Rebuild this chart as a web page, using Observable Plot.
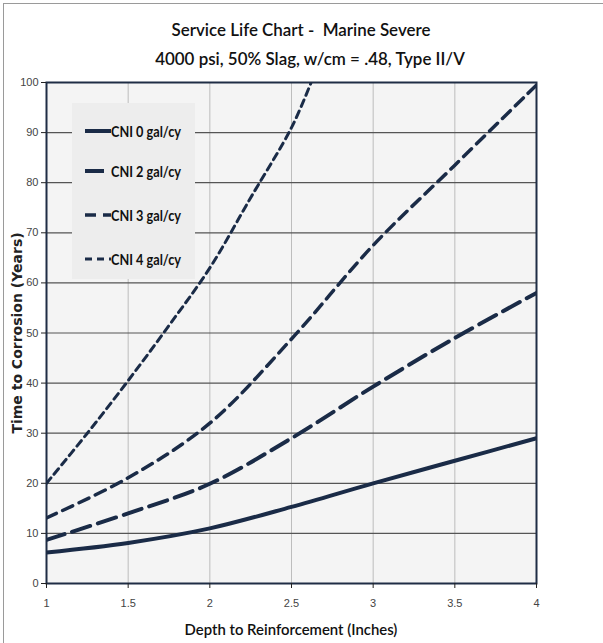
<!DOCTYPE html>
<html><head><meta charset="utf-8">
<script src="https://cdn.jsdelivr.net/npm/d3@7"></script>
<script src="https://cdn.jsdelivr.net/npm/@observablehq/plot@0.6"></script>
<style>
body{margin:0;background:#fff;}
#wrap{position:relative;width:603px;height:643px;overflow:hidden;}
#border{position:absolute;left:3px;top:3px;width:800px;height:800px;border-top:1px solid #9a9a9a;border-left:1px solid #9a9a9a;}
#chart{position:absolute;left:0;top:0;}
.title{position:absolute;transform:translate(-50%,-50%) scaleX(0.94);font-family:Lato,"Open Sans",sans-serif;font-weight:600;font-size:18px;color:#111;white-space:nowrap;}
#ytitle{position:absolute;left:17px;top:333px;transform:translate(-50%,-50%) rotate(-90deg);font-family:"DejaVu Sans",Verdana,sans-serif;font-weight:bold;font-size:14px;color:#222;white-space:nowrap;}
#xtitle{position:absolute;left:291px;top:628px;transform:translate(-50%,-50%) scaleX(0.93);font-family:Lato,"Open Sans",sans-serif;font-weight:600;font-size:16px;color:#111;white-space:nowrap;}
#legend{position:absolute;left:72px;top:103px;width:123px;height:176px;background:#ededed;}
.lg{position:absolute;left:0;height:20px;display:flex;align-items:center;}
.lg span{display:inline-block;transform-origin:left center;transform:scaleX(0.82);font-family:Lato,sans-serif;font-weight:bold;font-size:15.5px;color:#111;white-space:nowrap;}
</style></head>
<body><div id="wrap"><div id="border"></div><div id="chart"></div>
<div class="title" style="left:301px;top:29px">Service Life Chart -&nbsp; Marine Severe</div>
<div class="title" style="left:310px;top:58px">4000 psi, 50% Slag, w/cm = .48, Type II/V</div>
<div id="ytitle">Time to Corrosion (Years)</div>
<div id="xtitle">Depth to Reinforcement (Inches)</div>
<div id="legend"></div>
</div>
<script>
// ---- data ----
const depth = [1, 1.5, 2, 2.5, 3, 3.5, 4];
const cni0 = [6.2, 8.1, 11.0, 15.3, 20.0, 24.5, 29.0];
const cni2 = [8.7, 14.0, 19.9, 29.0, 39.3, 49.0, 58.0];
const cni3 = [13.1, 21.1, 32.0, 48.8, 67.5, 83.5, 99.5];
const depth4 = [1, 1.25, 1.5, 1.75, 2, 2.25, 2.5, 2.62];
const cni4 = [20, 30, 40.5, 51.5, 63, 77, 91, 100];
const seriesNames = ["CNI 0 gal/cy", "CNI 2 gal/cy", "CNI 3 gal/cy", "CNI 4 gal/cy"];
const xTicks = [1, 1.5, 2, 2.5, 3, 3.5, 4];
const xTickLabels = ["1", "1.5", "2", "2.5", "3", "3.5", "4"];
const yTicks = [0, 10, 20, 30, 40, 50, 60, 70, 80, 90, 100];

// ---- styles ----
const navy = "#1a2b47";
const styles = [
  {w: 4, dash: null},
  {w: 4, dash: "19,8"},
  {w: 3.5, dash: "11,7"},
  {w: 3, dash: "7,5"}
];

const xs = [depth, depth, depth, depth4];
const ys = [cni0, cni2, cni3, cni4];
const rows = ys.map((vals, i) => vals.map((v, j) => ({x: xs[i][j], y: v, s: seriesNames[i]})));

const lineMarks = rows.map((r, i) => Plot.line(r, {
  x: "x", y: "y", stroke: navy, strokeWidth: styles[i].w,
  strokeDasharray: styles[i].dash, curve: "catmull-rom", clip: true
}));

const chart = Plot.plot({
  width: 603, height: 643,
  marginTop: 82, marginBottom: 60, marginLeft: 46, marginRight: 67,
  style: {fontFamily: "'Liberation Sans',Arial,sans-serif", fontSize: "11px", color: "#444", background: "transparent"},
  x: {domain: [1, 4]},
  y: {domain: [0, 100]},
  marks: [
    Plot.frame({fill: "#f4f4f4", stroke: null}),
    Plot.gridX(xTicks.slice(1, -1), {stroke: "#bdbdbd", strokeOpacity: 1}),
    Plot.gridY(yTicks.slice(1, -1), {stroke: "#555", strokeOpacity: 1, strokeWidth: 1.2}),
    ...lineMarks,
    Plot.frame({stroke: "#1f2d45", strokeWidth: 2}),
    Plot.axisX(xTicks, {tickSize: 5, tickPadding: 11, label: null, tickFormat: (d, i) => xTickLabels[i], stroke: "#222"}),
    Plot.axisY(yTicks, {tickSize: 5, tickPadding: 3, label: null, stroke: "#222"})
  ]
});
document.getElementById("chart").appendChild(chart);

// ---- legend ----
const legend = document.getElementById("legend");
const legendTops = [18, 58, 102, 146];
seriesNames.forEach((name, i) => {
  const d = document.createElement("div");
  d.className = "lg";
  d.style.top = legendTops[i] + "px";
  const st = styles[i];
  d.innerHTML = `<svg width="40" height="20" style="margin-left:13px"><line x1="0" x2="26" y1="10" y2="10" stroke="${navy}" stroke-width="${st.w}" ${st.dash ? `stroke-dasharray="${st.dash}"` : ""}/></svg><span style="margin-left:-14px">${name}</span>`;
  legend.appendChild(d);
});
</script>
</body></html>
